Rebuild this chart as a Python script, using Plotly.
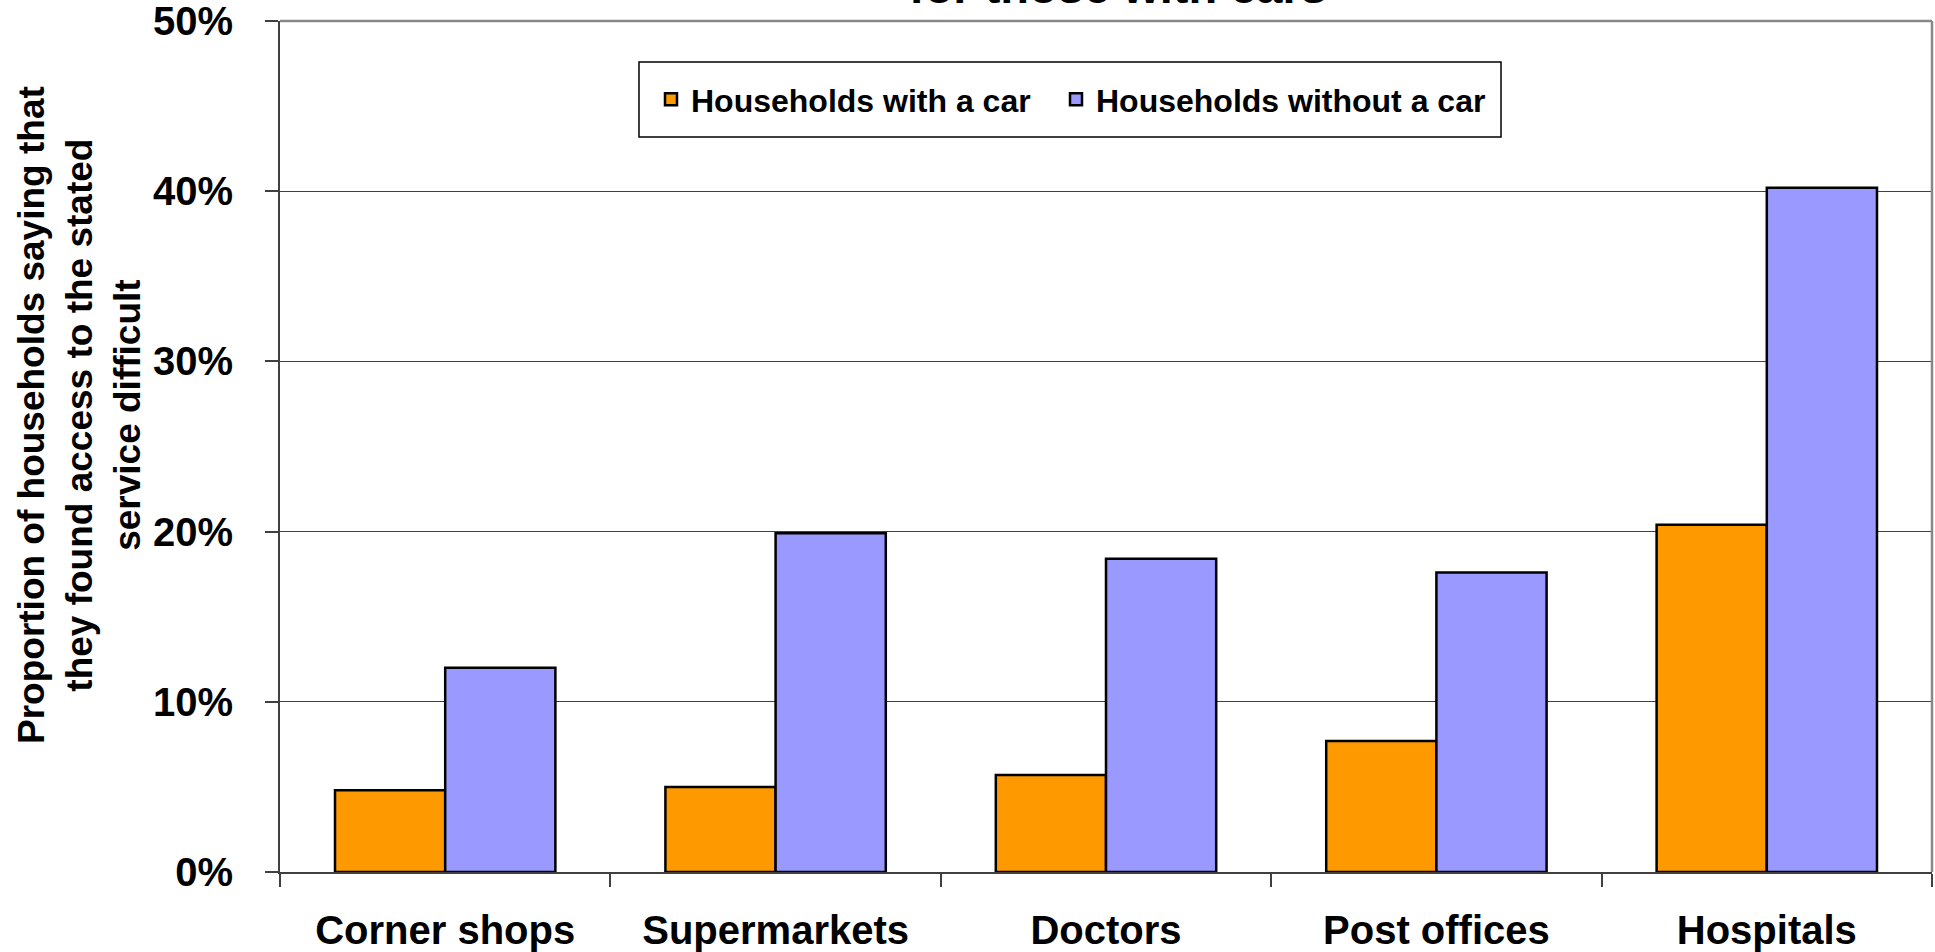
import plotly.graph_objects as go

categories = ["Corner shops", "Supermarkets", "Doctors", "Post offices", "Hospitals"]
with_car = [0.048, 0.050, 0.057, 0.077, 0.204]
without_car = [0.120, 0.199, 0.184, 0.176, 0.402]
series_names = ["Households with a car", "Households without a car"]
y_ticks = [0, 0.1, 0.2, 0.3, 0.4, 0.5]
title_text = "for those with cars"
y_title = "Proportion of households saying that<br>they found access to the stated<br>service difficult"

FONT = "Liberation Sans"
W, H = 1935, 952
ML, MR, MT, MB = 280, 3, 21, 80
PW, PH = W - ML - MR, H - MT - MB

def px_x(x):
    return (x - ML) / PW

def px_y(y):
    return 1 - (y - MT) / PH

fig = go.Figure()
fig.add_trace(go.Bar(
    x=categories, y=with_car, name=series_names[0], legend="legend",
    marker=dict(color="#FF9900", line=dict(color="#000000", width=2.5)),
))
fig.add_trace(go.Bar(
    x=categories, y=without_car, name=series_names[1], legend="legend2",
    marker=dict(color="#9999FF", line=dict(color="#000000", width=2.5)),
))

legend_font = dict(family=FONT, size=32, color="#000000", weight="bold")

fig.update_layout(
    width=W, height=H,
    margin=dict(l=ML, r=MR, t=MT, b=MB, autoexpand=False),
    paper_bgcolor="white", plot_bgcolor="white",
    barmode="group", bargap=0.333, bargroupgap=0,
    font=dict(family=FONT, size=40, color="#000000", weight="bold"),
    showlegend=True,
    legend=dict(
        orientation="h", x=px_x(651), xanchor="left",
        y=px_y(99.5), yanchor="middle",
        bgcolor="rgba(0,0,0,0)", borderwidth=0, font=legend_font,
    ),
    legend2=dict(
        orientation="h", x=px_x(1056), xanchor="left",
        y=px_y(99.5), yanchor="middle",
        bgcolor="rgba(0,0,0,0)", borderwidth=0, font=legend_font,
    ),
    xaxis=dict(
        type="category", showgrid=False,
        showline=True, linecolor="#404040", linewidth=2,
        ticks="outside", ticklen=13, tickwidth=1.5, tickcolor="#404040",
        tickson="boundaries", ticklabelstandoff=22,
        tickfont=dict(family=FONT, size=40, color="#000000", weight="bold"),
        automargin=False,
    ),
    yaxis=dict(
        range=[0, 0.5], tickvals=y_ticks, tickformat=".0%",
        showgrid=True, gridcolor="#404040", gridwidth=1,
        showline=True, linecolor="#404040", linewidth=2,
        ticks="outside", ticklen=13, tickwidth=1.5, tickcolor="#404040",
        ticklabelstandoff=24, ticklabeloverflow="allow",
        tickfont=dict(family=FONT, size=40, color="#000000", weight="bold"),
        automargin=False,
    ),
    shapes=[
        dict(type="line", xref="paper", yref="paper", x0=0, x1=1, y0=1, y1=1,
             line=dict(color="#888888", width=2.5), layer="above"),
        dict(type="line", xref="paper", yref="paper", x0=1, x1=1, y0=0, y1=1,
             line=dict(color="#888888", width=2.5), layer="above"),
        dict(type="rect", xref="paper", yref="paper",
             x0=px_x(639), x1=px_x(1501), y0=px_y(137), y1=px_y(62),
             line=dict(color="#000000", width=1.5), fillcolor="white", layer="below"),
    ],
    annotations=[
        dict(text=title_text, xref="paper", yref="paper", x=px_x(1118), y=1,
             xanchor="center", yanchor="bottom", yshift=6, showarrow=False,
             font=dict(family=FONT, size=47, color="#000000", weight="bold")),
        dict(text=y_title, xref="paper", yref="paper", x=px_x(80), y=px_y(415),
             xanchor="center", yanchor="middle", textangle=-90, showarrow=False,
             font=dict(family=FONT, size=37, color="#000000", weight="bold")),
    ],
)

fig.write_html("out.html", config={"displayModeBar": False},
               post_script="document.body.style.margin='0';")
